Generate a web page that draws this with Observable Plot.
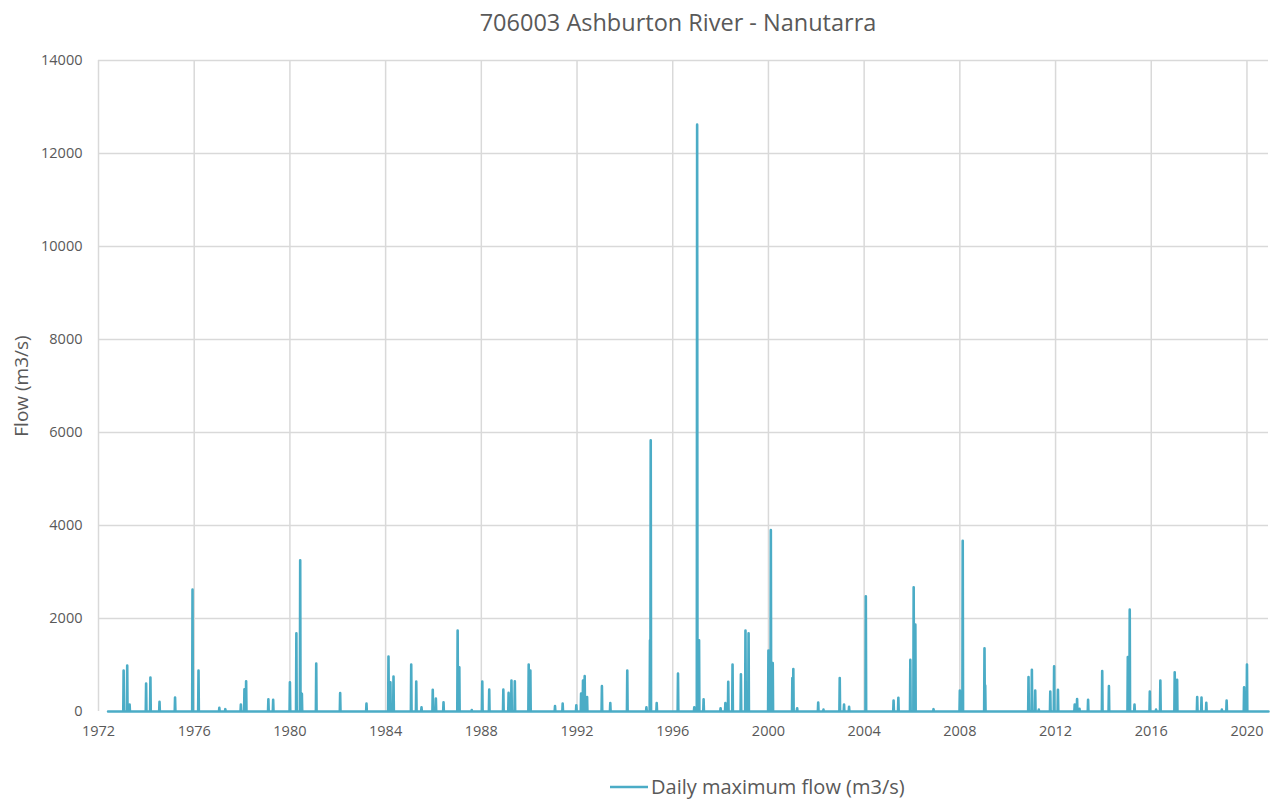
<!DOCTYPE html>
<html>
<head>
<meta charset="utf-8">
<script src="https://cdn.jsdelivr.net/npm/d3@7"></script>
<script src="https://cdn.jsdelivr.net/npm/@observablehq/plot@0.6"></script>
<style>
  html, body { margin: 0; padding: 0; background: #fff; }
  #wrap { position: relative; width: 1276px; height: 799px; font-family: "Open Sans", Lato, sans-serif; color: #595959; }
  #title { position: absolute; left: 0; top: 6px; width: 1356px; text-align: center; font-size: 23.5px; line-height: 32px; }
  #chart { position: absolute; left: 0; top: 45px; }
  #legend { position: absolute; left: 610px; top: 776px; height: 22px; display: flex; align-items: center; font-size: 20px; line-height: 22px; }
  #legend svg { margin-right: 3px; }
  g[aria-label="y-axis label"] text { font-size: 19px; }
</style>
</head>
<body>
<div id="wrap">
  <div id="title">706003 Ashburton River - Nanutarra</div>
  <div id="chart"></div>
  <div id="legend"><svg width="38" height="4"><line x1="0" y1="2" x2="38" y2="2" stroke="#4BACC6" stroke-width="2.5"/></svg><span>Daily maximum flow (m3/s)</span></div>
</div>
<script>
// Tick labels
const xTicks = [1972, 1976, 1980, 1984, 1988, 1992, 1996, 2000, 2004, 2008, 2012, 2016, 2020];
const yTicks = [0, 2000, 4000, 6000, 8000, 10000, 12000, 14000];

// Record span (decimal years)
const recordStart = 1972.4;
const recordEnd = 2020.9;

// Flow events: decimal year of peak and daily maximum flow (m3/s); flow is ~0 between events
const peakYear = [
  1973.05, 1973.2, 1973.3, 1973.99, 1974.17, 1974.55, 1975.2, 1975.93, 1976.18,
  1977.05, 1977.3, 1977.95, 1978.1, 1978.17, 1979.1, 1979.3, 1980.0, 1980.27, 1980.43, 1980.5,
  1981.1, 1982.1, 1983.2, 1984.12, 1984.2, 1984.33, 1985.07, 1985.28, 1985.5, 1985.97, 1986.1, 1986.42,
  1987.01, 1987.08, 1987.6, 1988.04, 1988.33, 1988.92, 1989.14, 1989.26, 1989.4, 1989.98, 1990.05,
  1991.08, 1991.4, 1991.97, 1992.17, 1992.25, 1992.32, 1992.42, 1993.04, 1993.39, 1994.1, 1994.9,
  1995.05, 1995.08, 1995.33, 1996.22, 1996.9, 1997.02, 1997.1, 1997.29, 1998.0, 1998.2, 1998.32,
  1998.5, 1998.85, 1999.04, 1999.17, 2000.0, 2000.1, 2000.18, 2001.0, 2001.04, 2001.2, 2002.08,
  2002.3, 2002.98, 2003.16, 2003.37, 2004.07, 2005.23, 2005.43, 2005.93, 2006.07, 2006.14, 2006.9,
  2008.0, 2008.12, 2009.03, 2009.06, 2010.87, 2011.01, 2011.15, 2011.3, 2011.78, 2011.94, 2012.1,
  2012.8, 2012.9, 2013.0, 2013.36, 2013.95, 2014.23, 2015.02, 2015.1, 2015.3, 2015.94, 2016.2,
  2016.38, 2016.98, 2017.08, 2017.92, 2018.1, 2018.3, 2018.95, 2019.15, 2019.88, 2020.0
];
const peakFlow = [
  880, 990, 150, 600, 730, 210, 300, 2620, 880,
  80, 50, 150, 480, 650, 260, 250, 630, 1680, 3250, 380,
  1030, 395, 170, 1180, 630, 750, 1010, 645, 90, 465, 280, 200,
  1740, 950, 30, 645, 470, 470, 400, 665, 650, 1010, 880,
  115, 170, 135, 385, 665, 760, 310, 545, 180, 880, 90,
  1530, 5830, 180, 815, 90, 12620, 1530, 260, 70, 180, 640,
  1010, 800, 1740, 1680, 1310, 3900, 1040, 720, 915, 70, 195,
  40, 720, 150, 100, 2480, 235, 295, 1110, 2670, 1870, 50,
  450, 3670, 1360, 560, 740, 895, 450, 40, 430, 970, 465,
  150, 270, 60, 250, 870, 545, 1170, 2190, 150, 430, 40,
  665, 845, 680, 310, 300, 185, 40, 235, 520, 1010
];

// Build the daily-style series: baseline at zero, rising to each recorded peak
const halfWidth = 0.014;
const series = [{t: recordStart, v: 0}];
peakYear.forEach((t, i) => {
  series.push({t: t - halfWidth, v: 0}, {t, v: peakFlow[i]}, {t: t + halfWidth, v: 0});
});
series.push({t: recordEnd, v: 0});

const chart = Plot.plot({
  width: 1276,
  height: 715,
  marginTop: 15,
  marginLeft: 98,
  marginRight: 8,
  marginBottom: 49,
  style: {fontFamily: "'Open Sans', Lato, sans-serif", fontSize: "14.5px", color: "#595959", background: "#fff"},
  x: {type: "linear", domain: [1972, 2020.9]},
  y: {domain: [0, 14000]},
  marks: [
    Plot.ruleX(xTicks, {x: d => d, stroke: "#d9d9d9", strokeWidth: 1.5}),
    Plot.ruleY(yTicks.filter(d => d > 0), {y: d => d, stroke: "#d9d9d9", strokeWidth: 1.5}),
    Plot.lineY(series, {x: "t", y: "v", stroke: "#4BACC6", strokeWidth: 2.6, strokeLinejoin: "round"}),
    Plot.axisX({ticks: xTicks, tickFormat: d => String(d), tickSize: 0, tickPadding: 14, label: null, fill: "#595959"}),
    Plot.axisY({ticks: yTicks, tickFormat: d => String(d), tickSize: 0, tickPadding: 16, label: "Flow (m3/s)", labelAnchor: "center", labelArrow: "none", labelOffset: 84, fill: "#595959"})
  ]
});
document.getElementById("chart").appendChild(chart);
</script>
</body>
</html>
